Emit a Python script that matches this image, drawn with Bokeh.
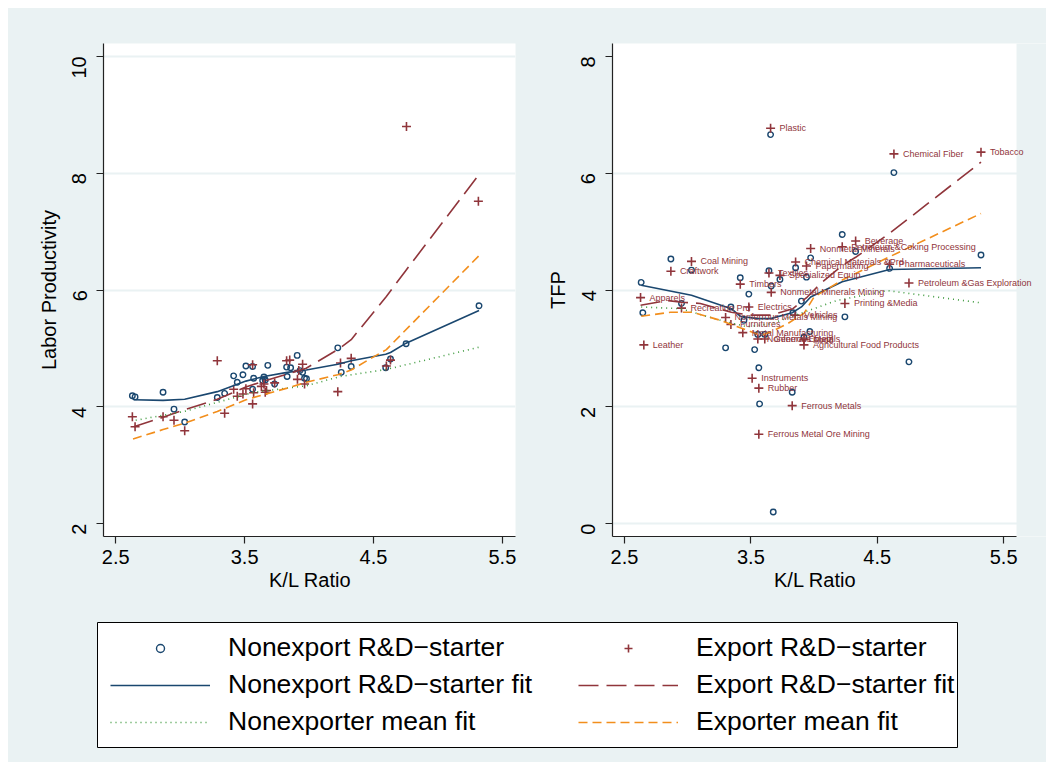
import math
from bokeh.plotting import figure
from bokeh.models import (Range1d, FixedTicker, Legend, LegendItem, LabelSet, ColumnDataSource,
                          BoxAnnotation, Title)
from bokeh.layouts import column, row
from bokeh.embed import file_html
from bokeh.resources import INLINE
from bokeh.core.properties import value

BG = "#EAF2F3"
NAVY = "#1A476F"
MAROON = "#90353B"
GREEN = "#3E9A3E"
ORANGE = "#F28E1C"
FONT = "Liberation Sans"

# ---------------- Data: left panel (Labor Productivity) ----------------
lp_non_x = [2.629, 2.65, 2.867, 2.952, 3.035, 3.288, 3.345, 3.415, 3.443, 3.487, 3.51, 3.562,
            3.57, 3.562, 3.64, 3.65, 3.66, 3.68, 3.733, 3.826, 3.83, 3.857, 3.908, 3.93, 3.95,
            3.965, 3.98, 4.223, 4.25, 4.327, 4.595, 4.632, 4.753, 5.319]
lp_non_y = [4.19, 4.17, 4.25, 3.96, 3.74, 4.16, 4.23, 4.53, 4.42, 4.55, 4.70, 4.69,
            4.49, 4.30, 4.45, 4.51, 4.46, 4.71, 4.39, 4.68, 4.52, 4.67, 4.88, 4.62, 4.59,
            4.49, 4.48, 5.01, 4.59, 4.69, 4.67, 4.82, 5.08, 5.73]
lp_exp_x = [2.629, 2.65, 2.867, 2.952, 3.035, 3.288, 3.345, 3.415, 3.443, 3.487, 3.51, 3.562,
            3.562, 3.57, 3.63, 3.65, 3.66, 3.67, 3.733, 3.826, 3.85, 3.91, 3.92, 3.95, 3.965,
            4.223, 4.244, 4.327, 4.60, 4.632, 4.756, 5.314]
lp_exp_y = [3.83, 3.66, 3.83, 3.77, 3.59, 4.79, 3.89, 4.30, 4.18, 4.22, 4.31, 4.72,
            4.05, 4.24, 4.35, 4.39, 4.25, 4.28, 4.41, 4.79, 4.80, 4.47, 4.62, 4.73, 4.39,
            4.26, 4.75, 4.83, 4.70, 4.80, 8.80, 7.52]

lp_nonfit_x = [2.64, 2.867, 3.035, 3.288, 3.51, 3.65, 3.83, 3.978, 4.223, 4.327, 4.595, 4.632, 4.753, 5.319]
lp_nonfit_y = [4.12, 4.11, 4.13, 4.26, 4.44, 4.52, 4.59, 4.63, 4.73, 4.79, 4.90, 4.93, 5.09, 5.65]
lp_expfit_x = [2.64, 2.867, 3.035, 3.288, 3.51, 3.65, 3.83, 3.978, 4.223, 4.327, 4.60, 4.75, 5.32]
lp_expfit_y = [3.66, 3.82, 3.95, 4.13, 4.34, 4.44, 4.56, 4.66, 4.98, 5.15, 5.89, 6.33, 7.98]
lp_nonmean_x = [2.655, 3.03, 3.572, 3.978, 4.244, 4.6, 5.319]
lp_nonmean_y = [3.77, 3.92, 4.25, 4.36, 4.52, 4.64, 5.02]
lp_expmean_x = [2.634, 2.867, 3.035, 3.288, 3.51, 3.65, 3.83, 3.978, 4.223, 4.327, 4.45, 4.6, 5.32]
lp_expmean_y = [3.45, 3.61, 3.72, 3.92, 4.12, 4.21, 4.32, 4.42, 4.55, 4.63, 4.79, 4.98, 6.59]

# ---------------- Data: right panel (TFP) ----------------
tfp_labels = ["Plastic", "Chemical Fiber", "Tobacco", "Beverage", "Petroleum &Coking Processing",
              "Nonmetal Minerals", "Chemical Materials &Prd", "Papermaking", "Pharmaceuticals",
              "Coal Mining", "Craftwork", "Textiles", "Specialized Equip", "Timbers",
              "Petroleum &Gas Exploration", "Nonmetal Minerals Mining", "Apparels", "Recreation Prd",
              "Electrics", "Printing &Media", "Nonferrous Metals Mining", "Vehicles", "Furnitures",
              "Metal Manufacturing", "Nonferrous Metals", "General Equip", "Food",
              "Agricultural Food Products", "Leather", "Instruments", "Rubber", "Ferrous Metals",
              "Ferrous Metal Ore Mining"]
tfp_exp_x = [3.656, 4.632, 5.321, 4.329, 4.223, 3.973, 3.854, 3.94, 4.598, 3.030, 2.867, 3.643,
             3.73, 3.416, 4.751, 3.661, 2.627, 2.951, 3.484, 4.244, 3.30, 3.85, 3.342, 3.436,
             3.555, 3.61, 3.92, 3.92, 2.653, 3.51, 3.563, 3.827, 3.563]
tfp_exp_y = [6.77, 6.33, 6.36, 4.84, 4.74, 4.71, 4.48, 4.41, 4.44, 4.49, 4.32, 4.29,
             4.25, 4.10, 4.12, 3.96, 3.87, 3.69, 3.71, 3.77, 3.53, 3.57, 3.41, 3.27,
             3.16, 3.16, 3.15, 3.06, 3.06, 2.49, 2.32, 2.02, 1.53]
tfp_non_x = [2.632, 2.645, 2.867, 2.951, 3.030, 3.30, 3.342, 3.416, 3.445, 3.484, 3.53, 3.555,
             3.563, 3.569, 3.61, 3.643, 3.656, 3.661, 3.677, 3.73, 3.827, 3.833, 3.854, 3.90,
             3.92, 3.94, 3.967, 3.973, 4.223, 4.244, 4.329, 4.598, 4.632, 4.751, 5.321]
tfp_non_y = [4.13, 3.61, 4.53, 3.77, 4.34, 3.01, 3.71, 4.21, 3.48, 3.93, 2.98, 3.24,
             2.67, 2.05, 3.24, 4.33, 6.66, 4.07, 0.20, 4.18, 2.25, 3.61, 4.38, 3.81,
             3.19, 4.22, 3.29, 4.55, 4.95, 3.54, 4.66, 4.37, 6.01, 2.77, 4.60]

tfp_nonfit_x = [2.632, 3.03, 3.345, 3.418, 3.55, 3.656, 3.827, 3.90, 3.973, 4.223, 4.598, 5.321]
tfp_nonfit_y = [4.08, 3.91, 3.68, 3.55, 3.51, 3.51, 3.61, 3.71, 3.88, 4.14, 4.35, 4.38]
tfp_expfit_x = [2.627, 2.838, 2.951, 3.10, 3.345, 3.484, 3.656, 3.833, 3.946, 4.052, 4.223, 4.329, 4.598, 5.321]
tfp_expfit_y = [3.74, 3.82, 3.79, 3.77, 3.62, 3.57, 3.57, 3.68, 3.88, 4.11, 4.42, 4.56, 4.97, 6.19]
tfp_nonmean_x = [2.632, 2.943, 3.26, 3.47, 3.656, 3.92, 4.18, 4.58, 5.321]
tfp_nonmean_y = [3.71, 3.68, 3.48, 3.37, 3.42, 3.62, 3.82, 3.99, 3.78]
tfp_expmean_x = [2.632, 2.864, 3.036, 3.26, 3.47, 3.577, 3.656, 3.788, 3.92, 4.0, 4.223, 4.598, 5.321]
tfp_expmean_y = [3.55, 3.62, 3.62, 3.48, 3.31, 3.22, 3.28, 3.42, 3.60, 3.88, 4.17, 4.57, 5.31]

x_ticks = [2.5, 3.5, 4.5, 5.5]
lp_ticks = [2, 4, 6, 8, 10]
tfp_ticks = [0, 2, 4, 6, 8]

legend_labels = ["Nonexport R&D\u2212starter", "Nonexport R&D\u2212starter fit", "Nonexporter mean fit",
                 "Export R&D\u2212starter", "Export R&D\u2212starter fit", "Exporter mean fit"]

X_MIN, X_MAX = 2.405, 5.602
PX_PER_UNIT = 126.37
XLABEL_W = 81  # approx. rendered width of the x-axis title, used to centre it on the plot area


def make_panel(width, left, right, xr, yr, ylabel, yticks, ygrid):
    p = figure(width=width, height=592, x_range=Range1d(*xr), y_range=Range1d(*yr),
               toolbar_location=None, output_backend="svg",
               min_border_left=left, min_border_right=right, min_border_top=35, min_border_bottom=64)
    p.background_fill_color = "white"
    p.border_fill_color = BG
    p.outline_line_color = None
    p.xaxis.ticker = FixedTicker(ticks=x_ticks)
    p.yaxis.ticker = FixedTicker(ticks=yticks)
    p.xaxis.bounds = (X_MIN, X_MAX)
    p.xgrid.visible = False
    p.ygrid.ticker = FixedTicker(ticks=ygrid)
    p.ygrid.grid_line_color = BG
    p.ygrid.grid_line_width = 2
    for ax in (p.xaxis[0], p.yaxis[0]):
        ax.axis_line_color = "#222222"
        ax.axis_line_width = 1.2
        ax.major_tick_line_color = "#222222"
        ax.major_tick_line_width = 1.2
        ax.minor_tick_line_color = None
        ax.major_tick_out = 7
        ax.major_tick_in = 0
        ax.major_label_text_font = FONT
        ax.major_label_text_font_size = "20px"
        ax.major_label_text_color = "black"
        ax.axis_label_text_font = FONT
        ax.axis_label_text_font_size = "20px"
        ax.axis_label_text_font_style = "normal"
        ax.axis_label_text_color = "black"
    p.xaxis.major_label_standoff = 6
    p.xaxis.axis_label_standoff = 0
    # x-axis title drawn as a Title below the axis, centred on the plotted area
    frame_w = width - left - right
    plot_w = (X_MAX - X_MIN) * (frame_w / (xr[1] - xr[0]))
    t = Title(text="K/L Ratio", align="left", offset=plot_w / 2 - XLABEL_W / 2,
              text_font=FONT, text_font_size="20px", text_font_style="normal",
              text_color="black", standoff=0)
    p.add_layout(t, "below")
    p.yaxis.axis_label = ylabel
    p.yaxis.major_label_orientation = math.pi / 2
    p.yaxis.major_label_standoff = 17
    p.yaxis.axis_label_standoff = 3
    return p


def add_series(p, nx, ny, ex, ey, nfx, nfy, efx, efy, nmx, nmy, emx, emy, labels=None):
    p.scatter(nx, ny, marker="circle", size=5.5, fill_color=None, line_color=NAVY, line_width=1.4)
    p.scatter(ex, ey, marker="cross", size=9, line_color=MAROON, line_width=1.6)
    if labels is not None:
        src = ColumnDataSource(data=dict(x=ex, y=ey, t=labels))
        p.add_layout(LabelSet(x="x", y="y", text="t", source=src, x_offset=9, y_offset=0,
                              text_font=value(FONT), text_font_size=value("9px"),
                              text_color=value(MAROON),
                              text_baseline=value("middle"), text_align=value("left")))
    p.line(nfx, nfy, line_color=NAVY, line_width=1.6)
    p.line(efx, efy, line_color=MAROON, line_width=1.6, line_dash="20 8")
    p.line(nmx, nmy, line_color=GREEN, line_width=1.6, line_dash="1 4")
    p.line(emx, emy, line_color=ORANGE, line_width=1.6, line_dash="9 5")


A = make_panel(512, 95, 5, (X_MIN, X_MAX), (1.78, 10.22), "Labor Productivity", lp_ticks, [4, 6, 8, 10])
add_series(A, lp_non_x, lp_non_y, lp_exp_x, lp_exp_y, lp_nonfit_x, lp_nonfit_y,
           lp_expfit_x, lp_expfit_y, lp_nonmean_x, lp_nonmean_y, lp_expmean_x, lp_expmean_y)

# Right panel: frame runs to the figure's right edge so labels may spill past the plot area;
# the part beyond X_MAX is painted with the background colour.
B = make_panel(526, 92, 0, (X_MIN, X_MIN + 434 / PX_PER_UNIT), (-0.22, 8.22), "TFP", tfp_ticks, [0, 2, 4, 6])
B.add_layout(BoxAnnotation(left=X_MAX, fill_color=BG, fill_alpha=1.0, line_color=None,
                           level="underlay"))
add_series(B, tfp_non_x, tfp_non_y, tfp_exp_x, tfp_exp_y, tfp_nonfit_x, tfp_nonfit_y,
           tfp_expfit_x, tfp_expfit_y, tfp_nonmean_x, tfp_nonmean_y, tfp_expmean_x, tfp_expmean_y,
           labels=tfp_labels)

# ---------------- Legend panel ----------------
C = figure(width=1038, height=162, x_range=Range1d(0, 1), y_range=Range1d(0, 1),
           toolbar_location=None, output_backend="svg", x_axis_location=None, y_axis_location=None,
           min_border_left=89, min_border_right=89, min_border_top=22, min_border_bottom=15)
C.grid.visible = False
C.outline_line_color = "black"
C.outline_line_width = 1
C.background_fill_color = "white"
C.border_fill_color = BG

nan = float("nan")
r_n = C.scatter([nan], [nan], marker="circle", size=5.5, fill_color=None, line_color=NAVY, line_width=1.4)
r_nf = C.line([nan], [nan], line_color=NAVY, line_width=1.6)
r_nm = C.line([nan], [nan], line_color=GREEN, line_width=1.6, line_dash="1 4")
r_e = C.scatter([nan], [nan], marker="cross", size=9, line_color=MAROON, line_width=1.6)
r_ef = C.line([nan], [nan], line_color=MAROON, line_width=1.6, line_dash="20 8")
r_em = C.line([nan], [nan], line_color=ORANGE, line_width=1.6, line_dash="9 5")


def mk_legend(items, loc):
    lg = Legend(items=items, location=loc, orientation="vertical",
                border_line_color=None, background_fill_alpha=0, padding=0, margin=0,
                spacing=6, glyph_width=100, glyph_height=20, label_height=30,
                label_standoff=18, label_text_font=FONT, label_text_font_size="26.5px",
                label_text_color="black")
    return lg


leg1 = mk_legend([LegendItem(label=legend_labels[0], renderers=[r_n]),
                  LegendItem(label=legend_labels[1], renderers=[r_nf]),
                  LegendItem(label=legend_labels[2], renderers=[r_nm])], (13, 10))
leg2 = mk_legend([LegendItem(label=legend_labels[3], renderers=[r_e]),
                  LegendItem(label=legend_labels[4], renderers=[r_ef]),
                  LegendItem(label=legend_labels[5], renderers=[r_em])], (481, 10))
C.add_layout(leg1)
C.add_layout(leg2)

top = row(A, B, styles={"background-color": BG})
layout = column(top, C, margin=(8, 8, 8, 8), styles={"background-color": BG})
open("out.html", "w").write(file_html(layout, INLINE))
